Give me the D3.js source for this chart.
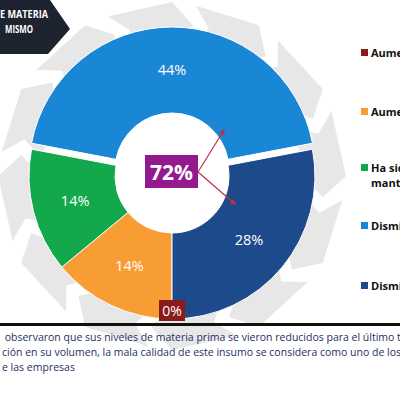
<!DOCTYPE html>
<html>
<head>
<meta charset="utf-8">
<script src="https://cdnjs.cloudflare.com/ajax/libs/d3/7.8.5/d3.min.js"></script>
<style>
  body { margin: 0; background: #fff; }
  svg { display: block; }
</style>
</head>
<body>
<svg id="chart" width="400" height="394"></svg>
<script>
// datos del grafico
const categories = ["Aumentó considerablemente", "Aumentó", "Ha sido mantenido", "Disminuyó", "Disminuyó considerablemente"];
const values = [0, 14, 14, 44, 28];
const colors = ["#8B1A1A", "#F89C34", "#12A84B", "#1A86D6", "#1D4A8B"];
const legendLines = [["Aumentó considerablemente"], ["Aumentó"], ["Ha sido", "mantenido"], ["Disminuyó"], ["Disminuyó considerablemente"]];
const totalLabel = "72%";
const headerLines = ["E MATERIA", "MISMO"];
const noteLines = [
    " observaron que sus niveles de materia prima se vieron reducidos para el último trimestre",
    "ción en su volumen, la mala calidad de este insumo se considera como uno de los principales",
    "e las empresas"
];

const svg = d3.select("#chart");
const cx = 172, cy = 176;
const rOuter = 143, rInner = 57;

// fondo: flechas grises en circulo
const deco = svg.append("g").attr("transform", `translate(${cx},${cy})`);
const polar = (deg, r) => {
    const a = (deg - 90) * Math.PI / 180;
    return [r * Math.cos(a), r * Math.sin(a)];
};
d3.range(12).forEach(i => {
    const a0 = i * 30 + 8;
    const r1 = 132, r2 = 172, rm = 152;
    const pts = [
        polar(a0, r1), polar(a0 + 6, rm), polar(a0, r2),
        polar(a0 + 22, r2 + 2), polar(a0 + 30, rm), polar(a0 + 22, r1)
    ];
    deco.append("path")
        .attr("d", "M" + pts.map(p => p.join(",")).join("L") + "Z")
        .attr("fill", "#E7E7E7");
});

// encabezado
svg.append("path")
    .attr("d", "M0,0L50,0L70,29L48,54L0,54Z")
    .attr("fill", "#1E2330");
svg.selectAll(".hdr")
    .data(headerLines)
    .enter().append("text")
    .attr("x", (d, i) => i === 0 ? 0 : 5)
    .attr("y", (d, i) => 18 + i * 15)
    .attr("textLength", (d, i) => i === 0 ? 48 : 28)
    .attr("lengthAdjust", "spacingAndGlyphs")
    .attr("font-family", "Open Sans")
    .attr("font-weight", "bold")
    .attr("font-size", 11)
    .attr("fill", "#fff")
    .text(d => d);

// dona
const pie = d3.pie().sort(null)
    .startAngle(Math.PI).endAngle(3 * Math.PI)(values);
const arc = d3.arc().innerRadius(rInner).outerRadius(rOuter);
const labelArc = d3.arc().innerRadius(100).outerRadius(100);
const explode = (d, i) => {
    if (i !== 3) return [0, 0];
    const m = (d.startAngle + d.endAngle) / 2;
    return [6 * Math.sin(m), -6 * Math.cos(m)];
};

const g = svg.append("g").attr("transform", `translate(${cx},${cy})`);
g.selectAll("path.slice")
    .data(pie)
    .enter().append("path")
    .attr("class", "slice")
    .attr("d", arc)
    .attr("fill", (d, i) => colors[i])
    .attr("stroke", "#fff")
    .attr("stroke-width", 1)
    .attr("transform", (d, i) => `translate(${explode(d, i)})`);

g.selectAll("text.lbl")
    .data(pie.filter(d => d.value > 0))
    .enter().append("text")
    .attr("class", "lbl")
    .attr("transform", d => {
        const c = labelArc.centroid(d);
        const e = explode(d, d.index);
        return `translate(${c[0] + e[0]},${c[1] + e[1] + 5})`;
    })
    .attr("text-anchor", "middle")
    .attr("font-family", "Open Sans")
    .attr("font-size", 14.5)
    .attr("fill", "#fff")
    .text(d => d.value + "%");

// etiqueta 0%
const zero = pie[0];
const zp = d3.arc().innerRadius(134).outerRadius(134).centroid(zero);
g.append("rect")
    .attr("x", zp[0] - 13).attr("y", zp[1] - 10)
    .attr("width", 26).attr("height", 21)
    .attr("fill", colors[0]);
g.append("text")
    .attr("x", zp[0]).attr("y", zp[1] + 6)
    .attr("text-anchor", "middle")
    .attr("font-family", "Open Sans")
    .attr("font-size", 14)
    .attr("fill", "#fff")
    .text(zero.value + "%");

// total central y flechas
svg.append("defs").append("marker")
    .attr("id", "head")
    .attr("viewBox", "0 -5 10 10")
    .attr("refX", 8).attr("refY", 0)
    .attr("markerWidth", 5).attr("markerHeight", 5)
    .attr("orient", "auto")
    .append("path").attr("d", "M0,-5L10,0L0,5").attr("fill", "#C0304A");

[[224, 130], [235, 204]].forEach(p => {
    svg.append("line")
        .attr("x1", 198).attr("y1", 172)
        .attr("x2", p[0]).attr("y2", p[1])
        .attr("stroke", "#C0304A").attr("stroke-width", 1.2)
        .attr("marker-end", "url(#head)");
});
svg.append("rect")
    .attr("x", 145).attr("y", 155).attr("width", 53).attr("height", 33)
    .attr("fill", "#93198F");
svg.append("text")
    .attr("x", 171.5).attr("y", 180)
    .attr("text-anchor", "middle")
    .attr("font-family", "Open Sans")
    .attr("font-weight", "bold")
    .attr("font-size", 21)
    .attr("fill", "#fff")
    .text(totalLabel);

// leyenda (el texto queda cortado en el borde, como en el original)
const legendY = [53, 112, 168, 226, 286];
const leg = svg.selectAll(".leg")
    .data(categories)
    .enter().append("g")
    .attr("transform", (d, i) => `translate(361,${legendY[i]})`);
leg.append("rect")
    .attr("x", 0).attr("y", -4).attr("width", 7).attr("height", 7)
    .attr("fill", (d, i) => colors[i]);
leg.each(function (d, i) {
    d3.select(this).selectAll("text")
        .data(legendLines[i])
        .enter().append("text")
        .attr("x", 10)
        .attr("y", (t, j) => 4 + j * 15)
        .attr("font-family", "Open Sans")
        .attr("font-weight", "bold")
        .attr("font-size", 11)
        .attr("fill", "#111")
        .text(t => t);
});

// nota inferior
svg.append("rect")
    .attr("x", 0).attr("y", 323).attr("width", 400).attr("height", 3)
    .attr("fill", "#111");
svg.selectAll(".note")
    .data(noteLines)
    .enter().append("text")
    .attr("x", 2)
    .attr("y", (d, i) => 341 + i * 15)
    .attr("xml:space", "preserve")
    .attr("font-family", "Open Sans")
    .attr("font-size", 10.5)
    .attr("fill", "#1F2F5F")
    .text(d => d);
</script>
</body>
</html>
